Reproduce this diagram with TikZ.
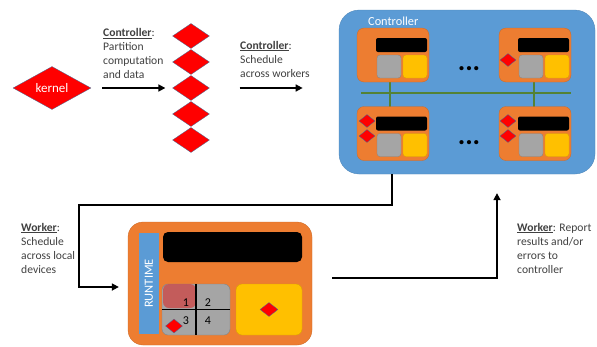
\documentclass[tikz,border=0pt]{standalone}
\usepackage{fontspec}
\setmainfont{Carlito}
\usetikzlibrary{shapes.geometric,arrows.meta}
\definecolor{ored}{HTML}{FF0000}
\definecolor{oorange}{HTML}{ED7D31}
\definecolor{oblue}{HTML}{5B9BD5}
\definecolor{ogray}{HTML}{A5A5A5}
\definecolor{oyellow}{HTML}{FFC000}
\definecolor{ogreen}{HTML}{548235}
\definecolor{dborder}{HTML}{41719C}
\definecolor{txt}{HTML}{404040}
\definecolor{redsoft}{HTML}{C9504F}
\tikzset{
  dia/.style={diamond,fill=ored,draw=dborder,line width=0.3pt,inner sep=0pt},
  bx/.style={rectangle,inner sep=0pt},
  arr/.style={draw=black,line width=1.6pt,-{Triangle[length=7pt,width=7pt]}},
  lbl/.style={font=\fontsize{11.6}{14}\selectfont,text=txt,align=left,inner sep=0pt},
}
\newcommand\minibox[2]{%
  \node[bx,fill=oorange,draw=oorange!85!black,line width=0.3pt,rounded corners=7pt,minimum width=72pt,minimum height=54pt] (#2) at (#1) {};
  \node[bx,fill=black,rounded corners=2pt,minimum width=51pt,minimum height=14pt] (#2bar) at ([xshift=8.5pt,yshift=10pt]#2.center) {};
  \node[bx,fill=ogray,draw=ogray!80!black,line width=0.3pt,rounded corners=3pt,minimum width=24pt,minimum height=23pt] (#2g) at ([xshift=-4pt,yshift=-11.5pt]#2.center) {};
  \node[bx,fill=oyellow,draw=oyellow!85!black,line width=0.3pt,rounded corners=3pt,minimum width=24pt,minimum height=23pt] (#2y) at ([xshift=22pt,yshift=-11.5pt]#2.center) {};
}
\begin{document}
\begin{tikzpicture}[x=1pt,y=-1pt]
\useasboundingbox (0,0) rectangle (597,346);
% kernel and partition
\node[dia,minimum width=78pt,minimum height=43pt,text=white,font=\fontsize{13}{14}\selectfont] (kernel) at (52,88) {kernel};
\foreach \i/\y in {1/36,2/62,3/88,4/114,5/140}
  \node[dia,minimum width=37pt,minimum height=25pt] (d\i) at (191,\y) {};
\draw[arr] ([xshift=11pt]kernel.east) -- ([xshift=-7pt]d3.west);
\node[lbl,anchor=west] (t1) at (103,53.5) {\underline{\textbf{Controller}}:\\Partition\\computation\\and data};
\node[lbl,anchor=west] (t2) at (240,59) {\underline{\textbf{Controller}}:\\Schedule\\across workers};
% controller
\node[bx,fill=oblue,draw=oblue!85!black,line width=0.3pt,rounded corners=20pt,minimum width=256pt,minimum height=164pt] (ctrl) at (467,92) {};
\node[lbl,font=\fontsize{12.3}{14}\selectfont,text=white,anchor=west] (ctrltxt) at (368,21) {Controller};
\draw[arr] ([xshift=30pt]d3.east) -- ++(63,0);
\draw[ogreen,line width=2.5pt] (361,93) -- (571,93);
\draw[ogreen,line width=2.5pt] (390,82) -- (390,107);
\draw[ogreen,line width=2.5pt] (534,82) -- (534,107);
\minibox{393,55}{wa}
\minibox{535,55}{wb}
\minibox{393,133.5}{wc}
\minibox{535,133.5}{wd}
\node[dia,minimum width=16pt,minimum height=13pt] (wbd) at ([xshift=-27pt,yshift=-5pt]wb.center) {};
\node[dia,minimum width=16pt,minimum height=13pt] (wcd1) at ([xshift=-26pt,yshift=12.5pt]wc.center) {};
\node[dia,minimum width=16pt,minimum height=13pt] (wcd2) at ([xshift=-26pt,yshift=-2.5pt]wc.center) {};
\node[dia,minimum width=16pt,minimum height=13pt] (wdd1) at ([xshift=-27pt,yshift=12.5pt]wd.center) {};
\node[dia,minimum width=16pt,minimum height=13pt] (wdd2) at ([xshift=-27pt,yshift=-2.5pt]wd.center) {};
\node[font=\fontsize{28}{28}\selectfont\bfseries,inner sep=0pt] (dots1) at (469,69) {...};
\node[font=\fontsize{28}{28}\selectfont\bfseries,inner sep=0pt] (dots2) at (469,143) {...};
% worker
\node[bx,fill=oorange,draw=oorange!85!black,line width=0.3pt,rounded corners=15pt,minimum width=184pt,minimum height=123pt] (worker) at (220,283.5) {};
\node[bx,fill=oblue,minimum width=20pt,minimum height=101pt] (rt) at (149,283.5) {};
\node[rotate=90,text=white,font=\fontsize{12.5}{12}\selectfont,inner sep=0pt] (rttxt) at (rt.center) {RUNTIME};
\node[bx,fill=black,rounded corners=5pt,minimum width=139pt,minimum height=30pt] (wbar) at (232.5,247) {};
\node[bx,fill=ogray,draw=ogray!80!black,line width=0.4pt,rounded corners=6pt,minimum width=68pt,minimum height=51pt] (grid) at (196,309.5) {};
\node[bx,fill=redsoft,rounded corners=6pt,minimum width=33pt,minimum height=24pt,opacity=0.85] (sel) at (179.5,296) {};
\draw[black,line width=1.1pt] (grid.north) -- (grid.south);
\draw[black,line width=1.1pt] (grid.west) -- (grid.east);
\node[font=\fontsize{12}{12}\selectfont,inner sep=0pt] (n1) at (186,303) {1};
\node[font=\fontsize{12}{12}\selectfont,inner sep=0pt] (n2) at (208,303) {2};
\node[font=\fontsize{12}{12}\selectfont,inner sep=0pt] (n3) at (186,321) {3};
\node[font=\fontsize{12}{12}\selectfont,inner sep=0pt] (n4) at (208,321) {4};
\node[dia,minimum width=17pt,minimum height=14pt] (gd) at (174,326) {};
\node[bx,fill=oyellow,draw=oyellow!85!black,line width=0.4pt,rounded corners=6pt,minimum width=66pt,minimum height=51pt] (ybox) at (269,309.5) {};
\node[dia,minimum width=18pt,minimum height=14pt] (yd) at (ybox.center) {};
% connectors
\coordinate (bendL) at (79,205);
\draw[arr] ([xshift=-75pt]ctrl.south) |- (bendL) |- ([xshift=-9pt,yshift=-3.5pt]worker.west);
\draw[arr] ([xshift=20pt,yshift=5.5pt]worker.east) -| ([xshift=30pt,yshift=-19pt]ctrl.south);
\node[lbl,anchor=west] (t3) at (21,248) {\underline{\textbf{Worker}}:\\Schedule\\across local\\devices};
\node[lbl,anchor=west] (t4) at (517,248) {\underline{\textbf{Worker}}: Report\\results and/or\\errors to\\controller};
\end{tikzpicture}
\end{document}
